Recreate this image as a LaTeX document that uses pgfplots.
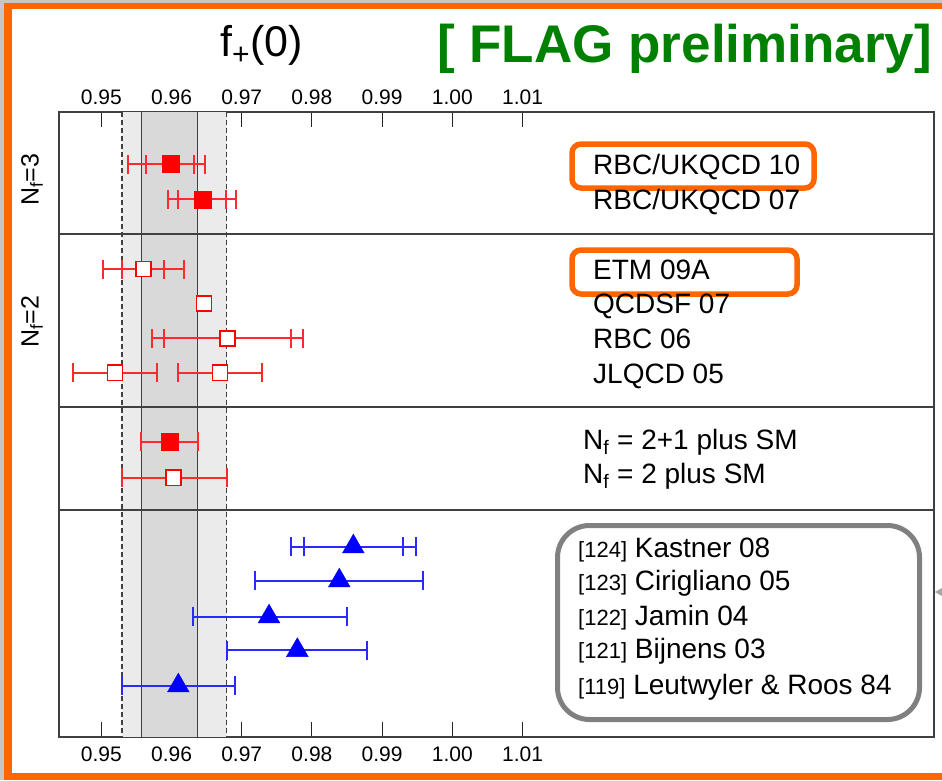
\documentclass[border=0pt]{standalone}
\usepackage{fontspec}
\setmainfont{Liberation Sans}
\usepackage{pgfplots}
\pgfplotsset{compat=1.18}
\usepackage{pgfplotstable}
\definecolor{flagorange}{HTML}{FF6600}
\definecolor{flaggreen}{HTML}{008000}
\definecolor{bandlight}{HTML}{EBEBEB}
\definecolor{banddark}{HTML}{D9D9D9}
\definecolor{errred}{HTML}{FF2A2A}
\definecolor{errblue}{HTML}{2A2AFF}
\definecolor{boxgray}{HTML}{808080}
\newcommand\fs[1]{\fontsize{#1}{#1}\selectfont}

% x y lo hi
\pgfplotstableread{
x y lo hi
0.95989 164 0.95380 0.96477
0.96439 199.3 0.95954 0.96919
0.95969 441.7 0.95561 0.96373
}\redfilledouter
\pgfplotstableread{
x y lo hi
0.95989 164 0.95637 0.96321
0.96439 199.3 0.96097 0.96772
}\redfilledinner
\pgfplotstableread{
x y lo hi
0.95598 269 0.95020 0.96182
0.96795 338.3 0.95718 0.97877
0.95195 372.7 0.94593 0.95798
0.96691 372.7 0.96088 0.97289
0.96026 477.7 0.95291 0.96786
}\redopenouter
\pgfplotstableread{
x y lo hi
0.95598 269 0.95291 0.95897
0.96795 338.3 0.95893 0.97698
}\redopeninner
\pgfplotstableread{
x y
0.95598 269
0.96463 303.3
0.96795 338.3
0.95195 372.7
0.96691 372.7
0.96026 477.7
}\redopenmarks
\pgfplotstableread{
x y lo hi
0.98590 546.7 0.97698 0.99483
0.98390 580.7 0.97194 0.99583
0.97389 616.7 0.96302 0.98496
0.97792 650.3 0.96786 0.98789
0.96097 685.7 0.95291 0.96905
}\blueouter
\pgfplotstableread{
x y lo hi
0.98590 546.7 0.97892 0.99293
}\blueinner

\begin{document}
\begin{tikzpicture}
\begin{scope}[x=1pt,y=-1pt]
  \fill[gray!45] (0,0) rectangle (942,780);
  \fill[white] (4,3) rectangle (942,780);
  \fill[flagorange] (4,3) rectangle (12,780);
  \fill[flagorange] (4,3) rectangle (942,9);
  \fill[flagorange] (4,773) rectangle (942,780);
\end{scope}

\begin{axis}[
  at={(59pt,-737pt)}, anchor=south west,
  scale only axis, width=875pt, height=625pt,
  xmin=0.94397, xmax=1.06862, ymin=112, ymax=737, y dir=reverse,
  clip=false,
  xtick={0.95,0.96,0.97,0.98,0.99,1.00,1.01},
  xticklabels={0.95,0.96,0.97,0.98,0.99,1.00,1.01},
  ytick=\empty,
  tick align=inside, major tick length=15pt,
  xtick style={black!85, line width=1.1pt},
  axis line style={draw=black!75, line width=1.3pt},
  xticklabel style={font=\fs{21}, inner sep=0pt, anchor=north, yshift=-10pt},
  redbar/.style={only marks, mark=none, color=errred,
    error bars/.cd, x dir=both, x explicit, error mark=|,
    error bar style={line width=2.1pt, color=errred},
    error mark options={line width=2pt, mark size=9.5pt, color=errred}},
  bluebar/.style={only marks, mark=none, color=errblue,
    error bars/.cd, x dir=both, x explicit, error mark=|,
    error bar style={line width=2.1pt, color=errblue},
    error mark options={line width=2pt, mark size=9.5pt, color=errblue}},
]
% bands
\addplot[draw=none, fill=bandlight] coordinates {(0.95295,112)(0.96786,112)(0.96786,737)(0.95295,737)};
\addplot[draw=none, fill=banddark] coordinates {(0.95575,112)(0.96373,112)(0.96373,737)(0.95575,737)};
\addplot[black!75, line width=1.2pt] coordinates {(0.95575,112)(0.95575,737)};
\addplot[black!75, line width=1.2pt] coordinates {(0.96373,112)(0.96373,737)};
\addplot[black!75, line width=1.1pt, dash pattern=on 5pt off 3pt] coordinates {(0.95295,112)(0.95295,737)};
\addplot[black!75, line width=1.1pt, dash pattern=on 5pt off 3pt] coordinates {(0.96786,112)(0.96786,737)};
% separators
\addplot[black!75, line width=1.3pt] coordinates {(0.94397,234)(1.06862,234)};
\addplot[black!75, line width=1.3pt] coordinates {(0.94397,407)(1.06862,407)};
\addplot[black!75, line width=1.3pt] coordinates {(0.94397,510)(1.06862,510)};
% error bars
\addplot[redbar] table[x=x, y=y, x error minus expr=\thisrow{x}-\thisrow{lo}, x error plus expr=\thisrow{hi}-\thisrow{x}] {\redfilledouter};
\addplot[redbar] table[x=x, y=y, x error minus expr=\thisrow{x}-\thisrow{lo}, x error plus expr=\thisrow{hi}-\thisrow{x}] {\redfilledinner};
\addplot[redbar] table[x=x, y=y, x error minus expr=\thisrow{x}-\thisrow{lo}, x error plus expr=\thisrow{hi}-\thisrow{x}] {\redopenouter};
\addplot[redbar] table[x=x, y=y, x error minus expr=\thisrow{x}-\thisrow{lo}, x error plus expr=\thisrow{hi}-\thisrow{x}] {\redopeninner};
\addplot[bluebar] table[x=x, y=y, x error minus expr=\thisrow{x}-\thisrow{lo}, x error plus expr=\thisrow{hi}-\thisrow{x}] {\blueouter};
\addplot[bluebar] table[x=x, y=y, x error minus expr=\thisrow{x}-\thisrow{lo}, x error plus expr=\thisrow{hi}-\thisrow{x}] {\blueinner};
% marks
\addplot[only marks, mark=square*, mark size=8.5pt, mark options={fill=red, draw=red, line width=0.6pt}] table[x=x, y=y] {\redfilledouter};
\addplot[only marks, mark=square*, mark size=7.6pt, mark options={fill=white, draw=red, line width=1.6pt}] table[x=x, y=y] {\redopenmarks};
\addplot[only marks, mark=triangle*, mark size=12.5pt, mark options={fill=blue, draw=blue, line width=0.5pt}] table[x=x, y=y] {\blueouter};
\end{axis}

\begin{axis}[
  at={(59pt,-737pt)}, anchor=south west,
  scale only axis, width=875pt, height=625pt,
  xmin=0.94397, xmax=1.06862, ymin=112, ymax=737,
  xtick={0.95,0.96,0.97,0.98,0.99,1.00,1.01},
  xticklabels={0.95,0.96,0.97,0.98,0.99,1.00,1.01},
  xticklabel pos=upper,
  ytick=\empty,
  axis line style={draw=none},
  xtick style={draw=none},
  xticklabel style={font=\fs{21}, inner sep=0pt, anchor=south, yshift=7pt},
]
\end{axis}

\begin{scope}[x=1pt,y=-1pt]
  % highlight boxes
  \draw[flagorange, line width=5.5pt, rounded corners=9pt] (572,144) rectangle (814,188);
  \draw[flagorange, line width=5.5pt, rounded corners=9pt] (572,250) rectangle (797,294);
  \draw[boxgray, line width=5pt, rounded corners=32pt] (557.5,525.5) rectangle (919.5,719.5);
  % labels
  \begin{scope}[every node/.style={anchor=base west, inner sep=0pt, font=\fs{28}}]
    \node at (593,174) {RBC/UKQCD 10};
    \node at (593,209) {RBC/UKQCD 07};
    \node at (593,279) {ETM 09A};
    \node at (593,313) {QCDSF 07};
    \node at (593,348) {RBC 06};
    \node at (593,383) {JLQCD 05};
    \node at (583,449) {N\textsubscript{f} = 2+1 plus SM};
    \node at (583,483) {N\textsubscript{f} = 2 plus SM};
    \node at (578,557) {{\fs{22}[124]} Kastner 08};
    \node at (578,590) {{\fs{22}[123]} Cirigliano 05};
    \node at (578,625) {{\fs{22}[122]} Jamin 04};
    \node at (578,658) {{\fs{22}[121]} Bijnens 03};
    \node at (578,694) {{\fs{22}[119]} Leutwyler \& Roos 84};
  \end{scope}
  \node[anchor=base west, inner sep=0pt, font=\fs{43}] at (220,56) {f\textsubscript{+}(0)};
  \node[anchor=base west, inner sep=0pt, font=\bfseries\fs{53}, text=flaggreen] at (437,62) {[ FLAG preliminary]};
  \node[rotate=90, inner sep=0pt, font=\fs{25}] at (32,180) {N\textsubscript{f}=3};
  \node[rotate=90, inner sep=0pt, font=\fs{25}] at (32,322) {N\textsubscript{f}=2};
  \fill[gray!70] (935,592) -- (942,588) -- (942,596) -- cycle;
\end{scope}
\end{tikzpicture}
\end{document}
